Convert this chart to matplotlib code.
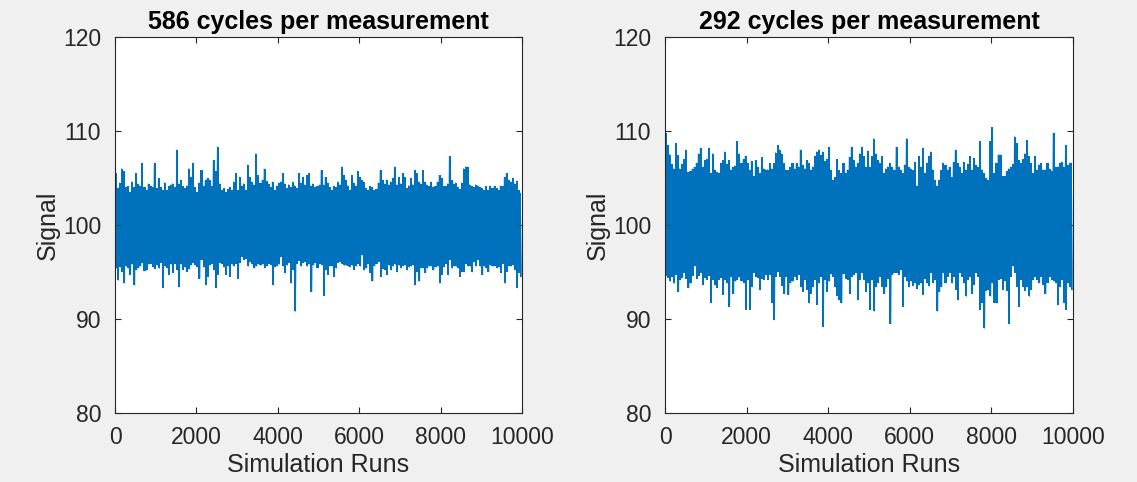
import numpy as np
import matplotlib
matplotlib.use("Agg")
import matplotlib.pyplot as plt

plt.rcParams["font.family"] = ["Liberation Sans", "DejaVu Sans"]

# Each simulation series is summarised per block of 50 runs by its
# highest and lowest signal value.
RUNS_PER_BLOCK = 50

titles = ["586 cycles per measurement", "292 cycles per measurement"]
x_ticks = [0, 2000, 4000, 6000, 8000, 10000]
y_ticks = [80, 90, 100, 110, 120]

upper_586 = [
    105.5, 103.9, 104.5, 106.0, 105.7, 104.0, 104.1, 103.5, 104.6, 104.0,
    105.5, 104.4, 104.2, 106.6, 104.0, 103.7, 104.4, 104.2, 104.0, 106.6,
    103.9, 105.0, 104.0, 103.7, 104.5, 103.7, 104.1, 104.3, 104.4, 104.0,
    108.0, 104.4, 104.8, 104.1, 103.9, 104.2, 106.0, 105.1, 106.6, 104.0,
    103.5, 104.5, 105.8, 104.1, 104.8, 105.0, 104.8, 104.1, 106.9, 105.7,
    108.3, 104.4, 103.7, 103.9, 103.5, 103.8, 104.0, 103.7, 104.6, 105.5,
    103.7, 105.1, 104.2, 104.4, 103.7, 106.4, 105.1, 104.6, 104.3, 107.6,
    105.3, 104.5, 104.8, 106.0, 104.7, 104.4, 104.0, 104.6, 103.7, 104.2,
    104.5, 104.6, 105.5, 104.4, 103.9, 104.3, 104.0, 104.6, 104.2, 103.9,
    105.5, 104.5, 105.1, 104.3, 105.3, 105.5, 104.2, 104.4, 104.0, 104.1,
    104.3, 105.8, 104.3, 105.1, 104.5, 104.0, 103.7, 104.1, 104.0, 104.6,
    104.3, 106.2, 105.3, 104.8, 104.2, 103.7, 105.3, 104.5, 104.2, 105.7,
    105.1, 104.8, 104.6, 103.9, 103.7, 104.1, 104.0, 103.7, 103.8, 104.5,
    105.8, 104.8, 104.4, 104.8, 104.3, 104.6, 105.0, 106.2, 104.3, 105.1,
    104.4, 105.5, 105.1, 103.9, 104.2, 105.0, 104.3, 105.8, 105.5, 104.6,
    104.4, 105.8, 104.6, 104.3, 104.1, 104.6, 104.0, 104.1, 104.6, 105.3,
    105.0, 104.1, 104.1, 104.4, 107.3, 104.8, 104.4, 104.5, 104.0, 103.8,
    104.5, 106.0, 106.2, 106.2, 104.3, 104.1, 104.0, 104.3, 104.2, 104.0,
    103.9, 103.7, 104.1, 103.7, 104.2, 103.9, 104.1, 103.9, 103.7, 104.2,
    104.1, 105.1, 105.5, 104.8, 104.6, 105.0, 104.4, 104.7, 103.7, 103.4,
]

lower_586 = [
    95.4, 94.1, 95.5, 95.0, 93.8, 95.6, 95.4, 94.7, 95.8, 93.6,
    95.2, 95.4, 95.6, 96.0, 95.1, 95.2, 95.8, 95.9, 95.5, 95.3,
    95.7, 95.4, 96.0, 93.3, 95.6, 95.4, 94.7, 95.8, 94.9, 95.9,
    95.2, 93.4, 95.8, 95.2, 95.5, 95.0, 95.3, 95.7, 96.0, 95.7,
    95.5, 94.3, 96.3, 95.5, 93.6, 94.5, 95.7, 95.9, 95.2, 93.3,
    94.7, 96.0, 95.9, 95.5, 94.7, 95.6, 94.5, 95.8, 95.6, 95.9,
    94.3, 96.0, 96.6, 96.3, 96.4, 95.6, 96.1, 95.8, 95.4, 95.6,
    95.9, 95.7, 95.8, 95.4, 95.6, 95.9, 95.7, 93.6, 95.5, 95.6,
    95.8, 96.6, 95.6, 94.9, 95.7, 96.0, 93.8, 95.2, 90.8, 95.9,
    96.2, 95.6, 96.0, 96.1, 95.6, 95.8, 92.9, 95.7, 96.0, 95.4,
    95.9, 95.7, 92.5, 95.2, 94.7, 95.6, 95.6, 94.5, 95.4, 96.0,
    96.1, 95.9, 95.7, 95.7, 95.6, 95.5, 95.7, 95.2, 95.6, 95.9,
    95.6, 96.8, 95.2, 95.4, 95.9, 94.9, 94.0, 95.6, 95.9, 96.1,
    94.5, 95.3, 95.2, 94.7, 95.7, 95.2, 95.6, 95.8, 95.0, 95.7,
    95.4, 95.6, 95.7, 95.2, 95.5, 95.6, 95.7, 93.6, 95.0, 94.0,
    95.4, 95.4, 94.9, 95.4, 95.6, 95.6, 95.2, 95.5, 95.6, 93.8,
    94.7, 95.5, 95.9, 94.7, 96.3, 95.4, 95.6, 95.6, 95.4, 94.5,
    95.0, 95.0, 95.9, 95.6, 95.6, 95.0, 96.1, 95.6, 96.3, 95.6,
    94.7, 95.6, 95.4, 95.0, 95.7, 95.6, 95.6, 95.4, 95.5, 94.9,
    95.9, 93.8, 95.0, 95.6, 95.6, 95.7, 95.2, 93.3, 94.9, 94.5,
]

upper_292 = [
    109.8, 108.5, 107.5, 106.5, 106.0, 108.7, 107.4, 106.0, 106.5, 107.0,
    108.0, 105.6, 105.7, 106.0, 106.2, 106.6, 107.6, 108.2, 106.2, 106.9,
    107.0, 108.2, 105.5, 107.6, 105.9, 105.6, 105.5, 106.6, 106.9, 107.8,
    106.5, 106.9, 105.9, 106.2, 106.3, 108.9, 107.6, 106.6, 107.0, 107.3,
    106.6, 105.8, 106.8, 105.2, 106.9, 106.2, 105.5, 107.2, 106.0, 105.9,
    105.9, 106.6, 106.0, 106.6, 107.7, 108.5, 108.0, 107.6, 106.6, 105.9,
    105.8, 106.2, 106.6, 106.0, 106.6, 106.2, 108.0, 106.4, 106.0, 106.9,
    106.6, 105.9, 106.2, 107.3, 107.8, 108.0, 107.4, 107.8, 106.8, 107.0,
    108.3, 105.9, 104.8, 105.1, 107.0, 105.8, 105.5, 106.6, 105.5, 105.9,
    107.2, 108.3, 106.9, 106.2, 106.6, 107.6, 108.3, 107.3, 106.2, 107.9,
    106.2, 107.3, 109.2, 107.6, 106.9, 106.6, 107.3, 105.5, 106.0, 106.2,
    106.6, 106.2, 105.9, 108.3, 106.2, 105.9, 105.5, 106.4, 109.2, 106.2,
    106.0, 105.8, 106.7, 104.2, 107.3, 106.2, 108.2, 105.5, 106.6, 107.3,
    107.8, 105.9, 104.8, 104.2, 104.8, 105.8, 106.6, 106.4, 105.9, 106.2,
    105.1, 106.7, 108.0, 106.6, 106.2, 105.5, 106.7, 105.9, 106.5, 107.3,
    105.9, 107.1, 106.4, 106.2, 108.9, 105.9, 105.5, 105.0, 104.8, 108.9,
    110.4, 105.5, 106.6, 107.5, 107.5, 105.2, 105.2, 105.7, 106.0, 106.2,
    106.5, 109.4, 108.7, 106.9, 106.6, 107.0, 107.6, 109.0, 107.3, 106.6,
    105.5, 107.3, 105.9, 106.4, 106.6, 105.9, 105.9, 106.6, 106.0, 105.7,
    109.8, 106.2, 106.2, 106.6, 106.7, 106.2, 108.5, 106.4, 106.6, 106.6,
]

lower_292 = [
    94.6, 94.4, 94.0, 94.5, 93.8, 94.7, 92.9, 94.2, 94.4, 94.9,
    94.3, 93.3, 93.8, 94.6, 95.6, 94.3, 94.6, 94.9, 93.6, 94.4,
    94.2, 94.6, 91.7, 94.2, 93.6, 93.3, 94.2, 94.4, 92.6, 94.2,
    93.8, 91.3, 94.5, 92.7, 94.0, 94.2, 94.5, 94.0, 93.8, 91.0,
    94.2, 91.0, 93.4, 94.9, 94.5, 94.4, 93.1, 94.3, 94.2, 94.7,
    94.2, 94.7, 91.7, 89.9, 94.5, 95.0, 94.5, 93.5, 92.7, 94.5,
    92.6, 93.8, 94.0, 94.5, 94.2, 94.7, 93.4, 92.9, 94.2, 93.1,
    91.7, 92.7, 93.4, 94.2, 91.5, 93.8, 94.5, 89.2, 94.2, 92.9,
    94.0, 94.8, 94.5, 93.4, 92.5, 92.0, 91.7, 94.8, 94.3, 94.2,
    92.7, 94.5, 94.7, 94.9, 92.0, 94.2, 94.9, 94.2, 92.9, 93.8,
    91.0, 94.2, 90.8, 93.4, 93.8, 94.5, 93.4, 92.7, 93.4, 94.3,
    89.5, 94.7, 94.9, 94.9, 94.7, 95.2, 91.3, 94.5, 94.0, 93.4,
    94.0, 93.5, 93.8, 93.2, 93.6, 93.8, 92.6, 94.3, 93.8, 93.5,
    94.9, 93.8, 94.2, 90.8, 92.9, 93.4, 94.9, 93.8, 94.5, 94.9,
    93.8, 94.5, 93.1, 92.0, 94.9, 94.5, 93.8, 92.4, 94.2, 94.5,
    92.7, 93.6, 94.9, 94.5, 91.0, 91.7, 89.0, 93.0, 93.1, 92.4,
    93.8, 91.7, 91.7, 94.2, 94.3, 93.1, 94.0, 93.0, 89.5, 94.5,
    95.6, 94.9, 93.4, 91.3, 94.2, 93.4, 93.0, 93.4, 92.4, 93.1,
    94.2, 94.5, 94.2, 93.8, 94.5, 93.6, 92.7, 93.8, 94.5, 94.2,
    94.0, 93.8, 91.5, 93.4, 94.2, 91.7, 91.0, 93.8, 93.4, 93.1,
]

LINE_BLUE = "#0072BD"
AXIS_GREY = "#262626"


def block_trace(upper, lower):
    """Interleave block maxima and minima into one run-ordered trace."""
    upper = np.asarray(upper, dtype=float)
    lower = np.asarray(lower, dtype=float)
    start = np.arange(len(upper)) * RUNS_PER_BLOCK
    runs = np.column_stack([start + 0.25 * RUNS_PER_BLOCK,
                            start + 0.75 * RUNS_PER_BLOCK]).ravel()
    signal = np.column_stack([upper, lower]).ravel()
    return runs, signal


W, H = 1137, 482
fig = plt.figure(figsize=(W / 100, H / 100), dpi=100, facecolor="#f0f0f0")

panels = [
    (115, 407, upper_586, lower_586, titles[0]),
    (665, 408, upper_292, lower_292, titles[1]),
]

for left_px, width_px, up, lo, title in panels:
    ax = fig.add_axes([left_px / W, 1 - 413 / H, width_px / W, 376 / H])
    ax.set_facecolor("white")
    centers = (np.arange(len(up)) + 0.5) * RUNS_PER_BLOCK
    # solid spread of each block of runs, then the trace over it
    ax.fill_between(centers, lo, up, step="mid", color=LINE_BLUE, lw=0)
    runs, signal = block_trace(up, lo)
    ax.plot(runs, signal, color=LINE_BLUE, lw=0.5)
    ax.set_xlim(0, 10000)
    ax.set_ylim(80, 120)
    ax.set_xticks(x_ticks)
    ax.set_yticks(y_ticks)
    ax.tick_params(direction="in", top=True, right=True, length=4.5,
                   width=0.8, colors=AXIS_GREY, labelsize=16.5)
    ax.tick_params(axis="x", pad=9)
    ax.tick_params(axis="y", pad=10)
    for sp in ax.spines.values():
        sp.set_color(AXIS_GREY)
        sp.set_linewidth(0.8)
        sp.set_zorder(3)
    ax.set_title(title, fontsize=18, fontweight="bold", color="black", pad=6)
    ax.set_xlabel("Simulation Runs", fontsize=18, color=AXIS_GREY, labelpad=3)
    ax.set_ylabel("Signal", fontsize=18, color=AXIS_GREY, labelpad=2)

fig.savefig("out.png", dpi=100, facecolor=fig.get_facecolor())
